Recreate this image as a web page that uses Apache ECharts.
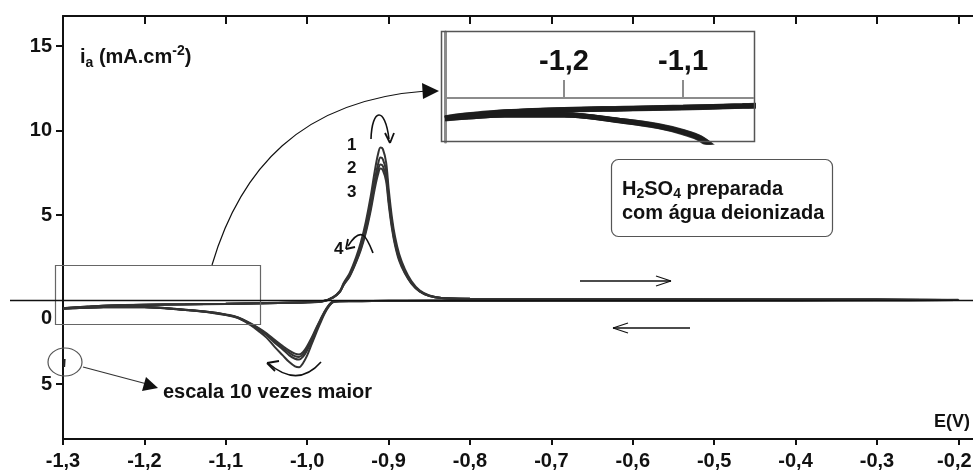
<!DOCTYPE html>
<html>
<head>
<meta charset="utf-8">
<script src="https://cdn.jsdelivr.net/npm/echarts@6/dist/echarts.min.js"></script>
<style>
html, body { margin: 0; padding: 0; background: #fff; }
#chart { width: 973px; height: 472px; }
</style>
</head>
<body>
<div id="chart"></div>
<script>
// potential sweep: -1.3 -> -0.2 V (anodic) then back to -1.3 V
var scanE = [
  -1.3, -1.29, -1.27, -1.25, -1.2, -1.15, -1.1, -1.05, -1.0, -0.98,
  -0.968, -0.96, -0.955, -0.948, -0.94, -0.934, -0.928, -0.922, -0.917, -0.913,
  -0.91, -0.907, -0.903, -0.9, -0.896, -0.892, -0.887, -0.88, -0.872, -0.862,
  -0.85, -0.835, -0.8, -0.7, -0.6, -0.5, -0.4, -0.3, -0.2,
  -0.3, -0.4, -0.5, -0.6, -0.7, -0.8, -0.88, -0.92, -0.945, -0.96,
  -0.968, -0.976, -0.984, -0.99, -0.995, -1.0, -1.005, -1.01, -1.015, -1.022,
  -1.03, -1.04, -1.05, -1.06, -1.07, -1.085, -1.1, -1.12, -1.15, -1.2,
  -1.25, -1.28, -1.3
];

// current (mA.cm-2) of each cycle, same order as scanE
var cycle1 = [
  -0.55, -0.5, -0.44, -0.38, -0.32, -0.29, -0.26, -0.22, -0.17, -0.1,
  0.15, 0.5, 1.0, 1.55, 2.5, 3.4, 4.6, 6.1, 7.6, 8.6,
  9.0, 8.9, 8.1, 6.6, 4.9, 3.7, 2.7, 1.8, 1.1, 0.55,
  0.25, 0.1, 0.05, 0.03, 0.02, 0.02, 0.01, 0.0, -0.02,
  -0.04, -0.05, -0.05, -0.06, -0.06, -0.07, -0.08, -0.09, -0.1, -0.1,
  -0.15, -0.6, -1.4, -2.1, -2.7, -3.3, -3.75, -4.0, -3.95, -3.7,
  -3.3, -2.8, -2.25, -1.85, -1.5, -1.1, -0.92, -0.76, -0.62, -0.45,
  -0.45, -0.5, -0.55
];
var cycle2 = [
  -0.54, -0.49, -0.43, -0.37, -0.31, -0.28, -0.25, -0.21, -0.16, -0.09,
  0.14, 0.47, 0.95, 1.45, 2.35, 3.2, 4.3, 5.7, 7.1, 8.0,
  8.4, 8.3, 7.6, 6.2, 4.6, 3.45, 2.5, 1.7, 1.0, 0.5,
  0.23, 0.1, 0.05, 0.03, 0.02, 0.01, 0.01, 0.0, -0.02,
  -0.04, -0.05, -0.05, -0.05, -0.06, -0.07, -0.08, -0.09, -0.1, -0.1,
  -0.14, -0.55, -1.3, -1.95, -2.5, -3.0, -3.38, -3.55, -3.5, -3.3,
  -2.95, -2.55, -2.1, -1.75, -1.45, -1.08, -0.9, -0.75, -0.61, -0.45,
  -0.45, -0.5, -0.54
];
var cycle3 = [
  -0.53, -0.48, -0.42, -0.37, -0.31, -0.28, -0.25, -0.21, -0.16, -0.09,
  0.13, 0.45, 0.9, 1.4, 2.25, 3.05, 4.1, 5.45, 6.8, 7.65,
  8.0, 7.9, 7.25, 5.9, 4.4, 3.3, 2.4, 1.6, 0.98, 0.5,
  0.22, 0.09, 0.05, 0.03, 0.02, 0.01, 0.0, 0.0, -0.02,
  -0.04, -0.04, -0.05, -0.05, -0.06, -0.06, -0.07, -0.08, -0.09, -0.1,
  -0.13, -0.52, -1.25, -1.85, -2.4, -2.85, -3.22, -3.4, -3.35, -3.15,
  -2.85, -2.45, -2.05, -1.7, -1.42, -1.06, -0.89, -0.74, -0.6, -0.44,
  -0.44, -0.49, -0.53
];
var cycle4 = [
  -0.52, -0.47, -0.41, -0.36, -0.3, -0.27, -0.24, -0.2, -0.15, -0.08,
  0.12, 0.44, 0.88, 1.35, 2.2, 2.95, 3.95, 5.25, 6.55, 7.4,
  7.75, 7.65, 7.0, 5.7, 4.25, 3.2, 2.3, 1.55, 0.95, 0.48,
  0.21, 0.09, 0.04, 0.03, 0.02, 0.01, 0.0, 0.0, -0.01,
  -0.03, -0.04, -0.05, -0.05, -0.05, -0.06, -0.07, -0.08, -0.09, -0.1,
  -0.12, -0.5, -1.2, -1.8, -2.3, -2.75, -3.1, -3.25, -3.2, -3.02,
  -2.75, -2.38, -2.0, -1.68, -1.4, -1.05, -0.88, -0.73, -0.6, -0.44,
  -0.44, -0.48, -0.52
];
var cycles = [cycle1, cycle2, cycle3, cycle4];

var xTickValues = [-1.3, -1.2, -1.1, -1.0, -0.9, -0.8, -0.7, -0.6, -0.5, -0.4, -0.3, -0.2];
var xTickLabels = ['-1,3', '-1,2', '-1,1', '-1,0', '-0,9', '-0,8', '-0,7', '-0,6', '-0,5', '-0,4', '-0,3', '-0,2'];
var yTickValues = [15, 10, 5, -5];
var yLabelValues = [15, 10, 5, -1.1, -5]; // the "0" sits a little under the zero line
var yLabelText = ['15', '10', '5', '0', '5'];
var insetTickValues = [-1.2, -1.1];
var insetTickLabels = ['-1,2', '-1,1'];

var FONT = '"Liberation Sans", Arial, Helvetica, sans-serif';
var INK = '#111';

// inset window (zoom of the box at the lower left)
var insetYMin = -1.158, insetYMax = 1.737, insetH = 110;
var insetAxisOffset = -Math.round(insetYMax / (insetYMax - insetYMin) * insetH);

function pairs(cur) {
  return scanE.map(function (e, i) { return [e, cur[i]]; });
}

var chart = echarts.init(document.getElementById('chart'));

var series = [];
cycles.forEach(function (c, k) {
  series.push({
    name: 'ciclo ' + (k + 1),
    type: 'line',
    xAxisIndex: 0, yAxisIndex: 0,
    data: pairs(c),
    showSymbol: false,
    smooth: 0.35,
    lineStyle: { color: '#333', width: 2 },
    animation: false
  });
});
// zoomed copy in the inset
cycles.forEach(function (c, k) {
  series.push({
    name: 'inset ' + (k + 1),
    type: 'line',
    xAxisIndex: 2, yAxisIndex: 1,
    data: pairs(c),
    showSymbol: false,
    smooth: 0.35,
    clip: true,
    lineStyle: { color: '#1c1c1c', width: 5, opacity: 0.85 },
    animation: false
  });
});

var labelFont = { fontSize: 20, fontWeight: 'bold', fontFamily: FONT, color: INK };

var option = {
  backgroundColor: '#fff',
  animation: false,
  grid: [
    { left: 63, right: 0, top: 16, bottom: 33, outerBoundsMode: 'none' },
    { left: 445, top: 32, width: 308, height: insetH, outerBoundsMode: 'none' }
  ],
  xAxis: [
    {
      gridIndex: 0, type: 'value', position: 'bottom',
      min: -1.3, max: -0.182,
      axisLine: { onZero: false, lineStyle: { color: INK, width: 2 } },
      axisTick: { customValues: xTickValues, length: 6, lineStyle: { color: INK, width: 2 } },
      axisLabel: {
        customValues: xTickValues, margin: 12,
        color: INK, fontSize: 20, fontWeight: 'bold', fontFamily: FONT,
        formatter: function (v) {
          var i = xTickValues.indexOf(v);
          // last label is pulled a bit left so it stays on the page
          return i === xTickValues.length - 1 ? '{edge|' + xTickLabels[i] + '}' : xTickLabels[i];
        },
        rich: { edge: Object.assign({ padding: [0, 8, 0, 0] }, labelFont) }
      },
      splitLine: { show: false }
    },
    {
      gridIndex: 0, type: 'value', position: 'top',
      min: -1.3, max: -0.182,
      axisLine: { onZero: false, lineStyle: { color: INK, width: 2 } },
      axisTick: { customValues: xTickValues, inside: true, length: 8, lineStyle: { color: INK, width: 2 } },
      axisLabel: { show: false },
      splitLine: { show: false }
    },
    {
      gridIndex: 1, type: 'value', position: 'top',
      offset: insetAxisOffset,
      min: -1.3, max: -1.0412,
      axisLine: { onZero: false, lineStyle: { color: '#8c8c8c', width: 2 } },
      axisTick: { customValues: insetTickValues, length: 18, lineStyle: { color: '#8c8c8c', width: 2 } },
      axisLabel: {
        customValues: insetTickValues, margin: 22,
        color: INK, fontSize: 29, fontWeight: 'bold', fontFamily: '"Liberation Sans Narrow", ' + FONT,
        formatter: function (v) { return insetTickLabels[insetTickValues.indexOf(v)]; }
      },
      splitLine: { show: false }
    }
  ],
  yAxis: [
    {
      gridIndex: 0, type: 'value',
      min: -8.25, max: 16.78,
      axisLine: { show: true, onZero: false, lineStyle: { color: INK, width: 2 } },
      axisTick: { show: true, customValues: yTickValues, length: 7, lineStyle: { color: INK, width: 2 } },
      axisLabel: {
        customValues: yLabelValues, margin: 11,
        color: INK, fontSize: 20, fontWeight: 'bold', fontFamily: FONT,
        formatter: function (v) { return yLabelText[yLabelValues.indexOf(v)]; }
      },
      splitLine: { show: false }
    },
    {
      gridIndex: 1, type: 'value',
      min: insetYMin, max: insetYMax,
      axisLine: { show: true, onZero: false, lineStyle: { color: '#8c8c8c', width: 3 } },
      axisTick: { show: false },
      axisLabel: { show: false },
      splitLine: { show: false }
    }
  ],
  series: series
};

chart.setOption(option);

// zero line runs past the left axis, take its height from the y scale
var y0 = Math.round(chart.convertToPixel({ yAxisIndex: 0 }, 0)) + 0.5;

function txt(x, y, s, size) {
  return {
    type: 'text', z: 20,
    style: { x: x, y: y, text: s, fill: INK, font: 'bold ' + size + 'px ' + FONT, verticalAlign: 'middle' }
  };
}
function seg(x1, y1, x2, y2, w, c) {
  return { type: 'line', z: 20, shape: { x1: x1, y1: y1, x2: x2, y2: y2 }, style: { stroke: c || INK, lineWidth: w || 1.3 } };
}
function curve(x1, y1, c1x, c1y, c2x, c2y, x2, y2, w) {
  return {
    type: 'bezierCurve', z: 20,
    shape: { x1: x1, y1: y1, cpx1: c1x, cpy1: c1y, cpx2: c2x, cpy2: c2y, x2: x2, y2: y2 },
    style: { stroke: INK, lineWidth: w || 1.6, fill: null }
  };
}

var graphics = [
  // zero line
  seg(10, y0, 973, y0, 1.6, '#111'),

  // y axis title
  {
    type: 'text', z: 20,
    style: {
      x: 80, y: 44, verticalAlign: 'top',
      text: '{n|i}{sub|a}{n| (mA.cm}{sup|-2}{n|)}',
      fill: INK, font: 'bold 20px ' + FONT,
      rich: {
        n: { fontSize: 20, fontWeight: 'bold', fontFamily: FONT, lineHeight: 26, verticalAlign: 'middle' },
        sub: { fontSize: 14, fontWeight: 'bold', fontFamily: FONT, verticalAlign: 'bottom' },
        sup: { fontSize: 14, fontWeight: 'bold', fontFamily: FONT, verticalAlign: 'top' }
      }
    }
  },
  txt(934, 422, 'E(V)', 18),

  // inset frame
  { type: 'rect', z: 15, shape: { x: 441.5, y: 31.5, width: 313, height: 110 }, style: { fill: null, stroke: '#555', lineWidth: 1.5 } },
  // region that the inset magnifies
  { type: 'rect', z: 15, shape: { x: 55.5, y: 265.5, width: 205, height: 59 }, style: { fill: null, stroke: '#666', lineWidth: 1.2 } },
  curve(212, 265, 240, 170, 300, 100, 426, 91, 1.2),
  { type: 'polygon', z: 20, shape: { points: [[439, 91], [422, 83], [423, 99]] }, style: { fill: '#111' } },

  // peak labels and curved arrows
  txt(347, 145, '1', 17),
  txt(347, 168, '2', 17),
  txt(347, 192, '3', 17),
  txt(334, 249, '4', 17),
  curve(371, 139, 372, 108, 385, 106, 389, 139),
  seg(390, 143, 385, 133, 1.8), seg(390, 143, 394, 133, 1.8),
  curve(373, 253, 367, 238, 362, 224, 348, 246),
  seg(346, 249, 348, 239, 1.8), seg(346, 249, 355, 247, 1.8),
  curve(321, 362, 307, 378, 290, 382, 268, 363),
  seg(267, 363, 279, 361, 1.8), seg(267, 363, 275, 371, 1.8),

  // 10x note
  {
    type: 'circle', z: 20, x: 65, y: 362, scaleY: 14 / 17,
    shape: { cx: 0, cy: 0, r: 17 },
    style: { fill: null, stroke: '#555', lineWidth: 1.2, strokeNoScale: true }
  },
  seg(64.5, 359, 64, 367, 2.2, '#222'),
  seg(83, 367, 147, 384, 1.2, '#333'),
  { type: 'polygon', z: 20, shape: { points: [[158, 388], [142, 391], [146, 377]] }, style: { fill: '#111' } },
  txt(163, 392, 'escala 10 vezes maior', 20),

  // scan direction
  seg(580, 281, 671, 281, 1.3), seg(671, 281, 656, 276, 1.3), seg(671, 281, 656, 286, 1.3),
  seg(690, 328, 613, 328, 1.3), seg(613, 328, 628, 323, 1.3), seg(613, 328, 628, 333, 1.3),

  // electrolyte note
  { type: 'rect', z: 15, shape: { x: 611.5, y: 159.5, width: 221, height: 77, r: 7 }, style: { fill: '#fff', stroke: '#555', lineWidth: 1.2 } },
  {
    type: 'text', z: 20,
    style: {
      x: 622, y: 177, verticalAlign: 'top',
      text: '{n|H}{sub|2}{n|SO}{sub|4}{n| preparada}\n{n|com água deionizada}',
      fill: INK, font: 'bold 20px ' + FONT,
      rich: {
        n: { fontSize: 20, fontWeight: 'bold', fontFamily: FONT, lineHeight: 24, verticalAlign: 'middle' },
        sub: { fontSize: 14, fontWeight: 'bold', fontFamily: FONT, verticalAlign: 'bottom' }
      }
    }
  }
];

chart.setOption({ graphic: graphics });
</script>
</body>
</html>
